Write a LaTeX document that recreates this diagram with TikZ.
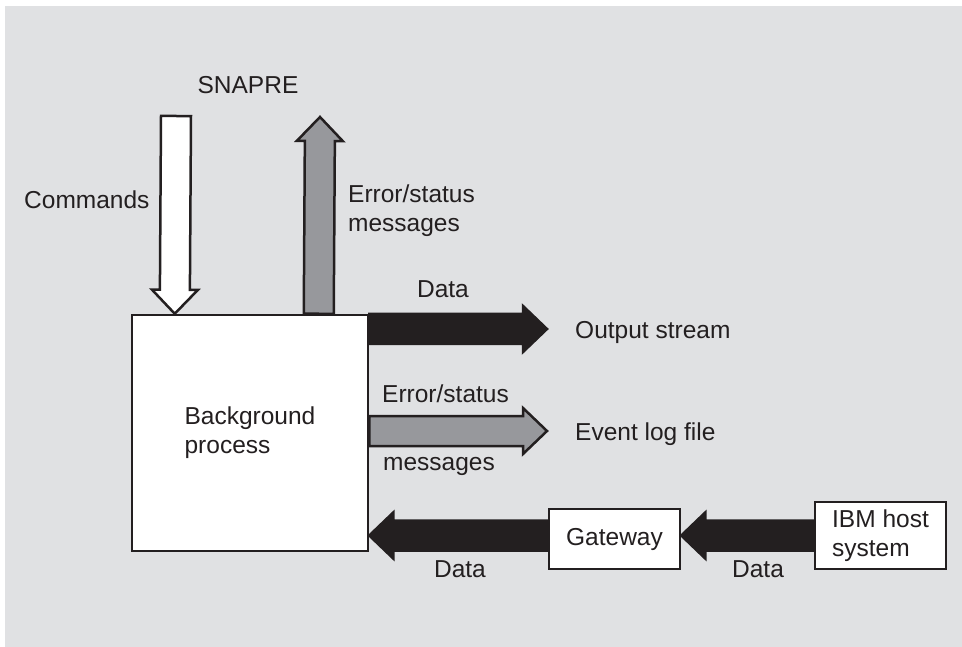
\documentclass[tikz,border=0pt]{standalone}
\usepackage{fontspec}
\setmainfont{Liberation Sans}
\usepackage{xcolor}
\usetikzlibrary{calc}
\definecolor{panel}{RGB}{224,225,227}
\definecolor{ink}{RGB}{35,31,32}
\definecolor{midgray}{RGB}{151,152,156}
\tikzset{
  every node/.style = {font=\fontsize{24.5}{29}\selectfont, text=ink, inner sep=0pt}
}
\tikzset{
  box/.style = {draw=ink, line width=2.5pt, fill=white},
  fatline/.style = {draw=ink, line width=2.5pt, line join=miter},
  whitearrow/.style = {fatline, fill=white},
  grayarrow/.style = {fatline, fill=midgray},
  blackarrow/.style = {fatline, fill=ink}
}
% block arrow from #2 to #3 (tip), style #1
\newcommand\fatarrow[3]{%
  \path let \p1=(#2), \p2=(#3),
    \n1={veclen(\x2-\x1,\y2-\y1)}, \n2={atan2(\y2-\y1,\x2-\x1)}
    in \pgfextra{\xdef\arrlen{\n1}\xdef\arrang{\n2}};
  \draw[#1, shift={(#2)}, rotate=\arrang]
    (0,15) -- ({\arrlen-24},15) -- ({\arrlen-24},23) -- (\arrlen,0)
    -- ({\arrlen-24},-23) -- ({\arrlen-24},-15) -- (0,-15) -- cycle;
}

\begin{document}
\begin{tikzpicture}[x=1pt,y=1pt]
\useasboundingbox (0,0) rectangle (962,-647);
\fill[panel] (5,-6) rectangle (962,-647);

% The boxes
\node[box, minimum width=236, minimum height=236, align=left] (bg) at (250,-433) {Background\\process};
\node[box, minimum width=131, minimum height=60] (gw) at (614.5,-539) {Gateway};
\node[box, minimum width=131, minimum height=67, align=left] (ibm) at (880.5,-535.5) {IBM host\\system};

% Ends of the arrows
\coordinate (cmdtop) at (176,-116);
\coordinate (cmdtip) at ($(bg.north west)+(44,0)$);
\coordinate (errtop) at (320,-117);
\coordinate (errfoot) at ($(bg.north west)+(188,0)$);
\coordinate (outtip) at (547,-329);
\coordinate (evtip) at (547,-431);

% The arrows
\fatarrow{whitearrow}{cmdtop}{cmdtip}
\fatarrow{grayarrow}{errfoot}{errtop}
\fatarrow{blackarrow}{bg.east |- outtip}{outtip}
\fatarrow{grayarrow}{bg.east |- evtip}{evtip}
\fatarrow{blackarrow}{gw.west |- ibm.west}{bg.east |- ibm.west}
\fatarrow{blackarrow}{ibm.west}{gw.east |- ibm.west}

% Labels
\node[anchor=base] (snapre) at (248,-94) {SNAPRE};
\node[anchor=base west] (cmds) at (24,-209) {Commands};
\node[anchor=base west] (errv) at (348,-203) {Error/status};
\node[anchor=base west] (msgv) at (348,-232) {messages};
\node[anchor=base] (dataout) at (443,-298) {Data};
\node[anchor=base west] (outstream) at (575,-338) {Output stream};
\node[anchor=base west] (errh) at (382,-402) {Error/status};
\node[anchor=base west] (msgh) at (383,-470) {messages};
\node[anchor=base west] (evlog) at (575,-440) {Event log file};
\node[anchor=base] (datagw) at (460,-577) {Data};
\node[anchor=base] (dataibm) at (758,-577) {Data};
\end{tikzpicture}
\end{document}
